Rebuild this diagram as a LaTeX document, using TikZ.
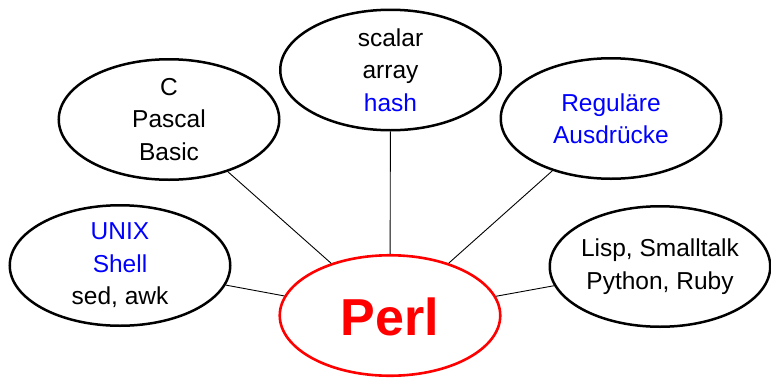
\documentclass[tikz,border=0pt]{standalone}
\usepackage{fontspec}
\setmainfont{Liberation Sans}
\usetikzlibrary{shapes.geometric}
\definecolor{pblue}{RGB}{0,0,255}
\definecolor{pred}{RGB}{255,0,0}
\begin{document}
\begin{tikzpicture}[x=1pt,y=-1pt,
  bubble/.style={ellipse,draw=black,line width=2.5pt,minimum width=220.5pt,minimum height=120.5pt,inner sep=0pt},
  centerbubble/.style={ellipse,draw=pred,line width=2.6pt,minimum width=220.5pt,minimum height=120.5pt,inner sep=0pt},
  label/.style={align=center,inner sep=0pt,font=\fontsize{24.5}{32.5}\selectfont},
  link/.style={line width=0.9pt,draw=black}]
\useasboundingbox (0,0) rectangle (771,378);
\node[bubble] (top) at (390.5,70) {};
\node[bubble] (cpas) at (169,119.5) {};
\node[bubble] (regex) at (611,118.5) {};
\node[bubble] (unix) at (120,265.5) {};
\node[bubble] (lisp) at (660,266.5) {};
\node[centerbubble] (perl) at (390,315.5) {};
\node[label] (ttop) at (top.center) {scalar\\array\\\textcolor{pblue}{hash}};
\node[label] (tcpas) at (cpas.center) {C\\Pascal\\Basic};
\node[label,text=pblue] (tregex) at (regex.center) {Reguläre\\Ausdrücke};
\node[label] (tunix) at (unix.center) {\textcolor{pblue}{UNIX}\\\textcolor{pblue}{Shell}\\sed, awk};
\node[label] (tlisp) at (lisp.center) {Lisp, Smalltalk\\Python, Ruby};
\node[inner sep=0pt,text=pred,font=\fontsize{52}{60}\selectfont\bfseries] (tperl) at ([yshift=-1pt]perl.center) {Perl};
\draw[link] (top) -- (perl);
\draw[link] (cpas) -- (perl);
\draw[link] (regex) -- (perl);
\draw[link] (unix) -- (perl);
\draw[link] (lisp) -- (perl);
\end{tikzpicture}
\end{document}
